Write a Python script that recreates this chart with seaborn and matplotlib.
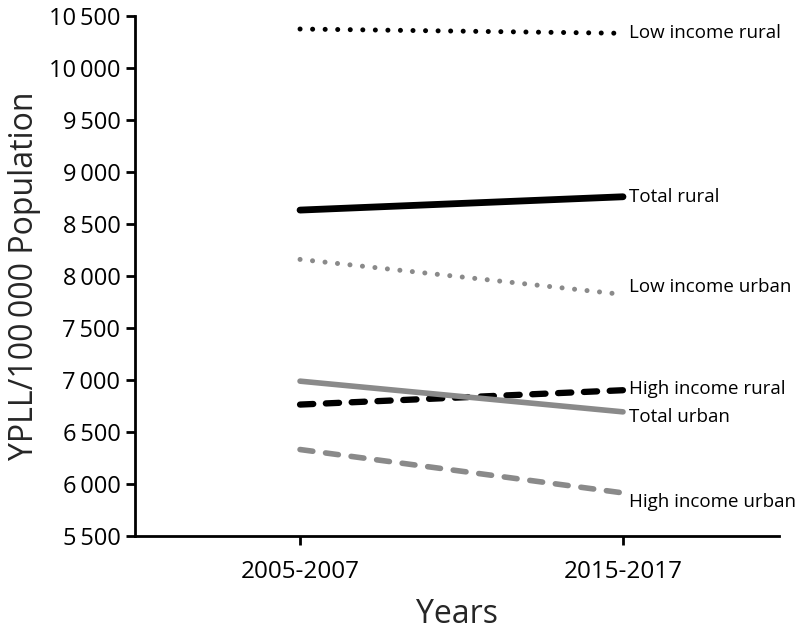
import matplotlib
matplotlib.use("Agg")
import matplotlib.pyplot as plt
import seaborn as sns
import pandas as pd

periods = ["2005-2007", "2015-2017"]
series_names = ["Low income rural", "Total rural", "Low income urban",
                "High income rural", "Total urban", "High income urban"]
low_income_rural = [10372, 10331]
total_rural = [8632, 8760]
low_income_urban = [8158, 7821]
high_income_rural = [6763, 6901]
total_urban = [6988, 6693]
high_income_urban = [6331, 5914]
y_ticks = [5500, 6000, 6500, 7000, 7500, 8000, 8500, 9000, 9500, 10000, 10500]

values = [low_income_rural, total_rural, low_income_urban,
          high_income_rural, total_urban, high_income_urban]

sns.set_theme(style="white")
plt.rcParams['font.family'] = ['Open Sans', 'DejaVu Sans']

px = 72 / 100.0
styles = {
    "Low income rural": dict(color="black", lw=5.0, ls=(0, (0.01, 2.5))),
    "Total rural": dict(color="black", lw=6.8, ls="-"),
    "Low income urban": dict(color="#8a8a8a", lw=5.0, ls=(0, (0.01, 2.5))),
    "High income rural": dict(color="black", lw=6.3, ls=(0, (2.1, 2.0))),
    "Total urban": dict(color="#8a8a8a", lw=5.6, ls="-"),
    "High income urban": dict(color="#8a8a8a", lw=5.6, ls=(0, (2.3, 2.3))),
}
label_offsets = {
    "Low income rural": 0, "Total rural": 0, "Low income urban": 7,
    "High income rural": 1, "Total urban": -5, "High income urban": -9,
}

fig = plt.figure(figsize=(7.98, 6.39), dpi=100)
ax = fig.add_axes([135 / 798, 1 - 536 / 639, (779 - 135) / 798, (536 - 15.7) / 639])

for name, vals in zip(series_names, values):
    st = styles[name]
    df = pd.DataFrame({"period": periods, "value": vals})
    sns.lineplot(data=df, x="period", y="value", ax=ax, color=st["color"],
                 linewidth=st["lw"] * px, linestyle=st["ls"],
                 dash_capstyle="round", solid_capstyle="round")
    ax.annotate(name, xy=(1, vals[1]), xytext=(6 * px, label_offsets[name] * px),
                textcoords="offset points", ha="left", va="center",
                fontsize=13.5, color="black")

ax.set_xlim(-0.511, 1.483)
ax.set_ylim(5500, 10500)
ax.set_yticks(y_ticks)
ax.set_yticklabels([f"{v:,}".replace(",", "\u2009") for v in y_ticks], fontsize=17)
ax.set_xticks([0, 1])
ax.set_xticklabels(periods, fontsize=17.5)
ax.set_xlabel("Years", fontsize=23, labelpad=10)
ax.set_ylabel("YPLL/100\u2009000 Population", fontsize=23, labelpad=6)

for s in ["top", "right"]:
    ax.spines[s].set_visible(False)
for s in ["left", "bottom"]:
    ax.spines[s].set_color("black")
    ax.spines[s].set_linewidth(2)
ax.tick_params(axis="both", which="both", direction="out", length=6.5, width=2,
               color="black", left=True, bottom=True, labelcolor="black")
ax.tick_params(axis="y", pad=4)
ax.tick_params(axis="x", pad=11)
ax.grid(False)
if ax.get_legend():
    ax.get_legend().remove()

fig.savefig("out.png", dpi=100)
